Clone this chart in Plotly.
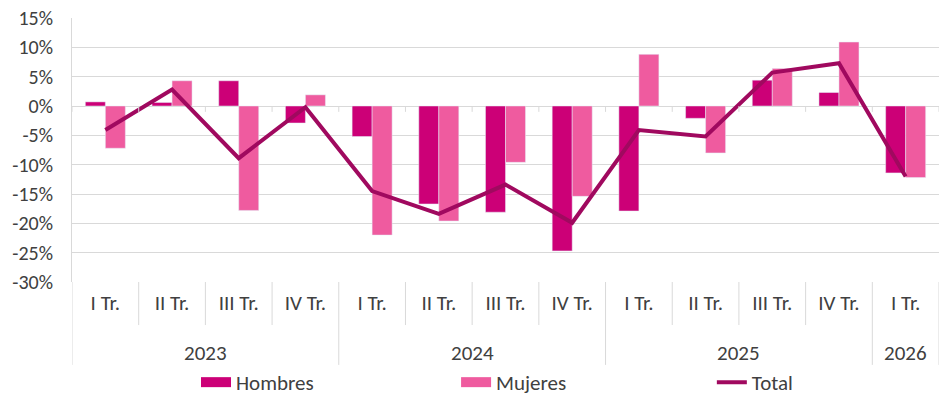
import plotly.graph_objects as go

years = ["2023"] * 4 + ["2024"] * 4 + ["2025"] * 4 + ["2026"]
quarters = ["I Tr.", "II Tr.", "III Tr.", "IV Tr."] * 3 + ["I Tr."]

hombres = [0.7, 0.6, 4.3, -2.9, -5.2, -16.7, -18.1, -24.7, -17.9, -2.1, 4.4, 2.3, -11.4]
mujeres = [-7.2, 4.3, -17.8, 1.9, -22.0, -19.6, -9.6, -15.4, 8.8, -8.0, 6.4, 10.9, -12.2]
total = [-4.1, 2.8, -8.9, -0.2, -14.5, -18.4, -13.4, -19.9, -4.1, -5.2, 5.7, 7.3, -12.0]

y_ticks = [15, 10, 5, 0, -5, -10, -15, -20, -25, -30]
y_labels = ["15%", "10%", "5%", "0%", "-5%", "-10%", "-15%", "-20%", "-25%", "-30%"]

FONT = "Carlito, Calibri, Lato, sans-serif"
TXT = "#404040"
GRID = "#d9d9d9"
C_H, C_M, C_T = "#CC0077", "#EF5B9F", "#A0095F"

idx = list(range(len(quarters)))

fig = go.Figure()
fig.add_trace(go.Bar(x=idx, y=hombres, name="Hombres", marker_color=C_H,
                     showlegend=False))
fig.add_trace(go.Bar(x=idx, y=mujeres, name="Mujeres", marker_color=C_M,
                     showlegend=False))
fig.add_trace(go.Scatter(x=idx, y=total, name="Total", mode="lines",
                         line={"color": C_T, "width": 4}, showlegend=False))

# legend entries, one legend each so they can be spaced like the original
for name, color, width, leg in [("Hombres", C_H, 13, "legend"),
                                ("Mujeres", C_M, 13, "legend2"),
                                ("Total", C_T, 4, "legend3")]:
    fig.add_trace(go.Scatter(x=[None], y=[None], name=name, mode="lines",
                             line={"color": color, "width": width}, legend=leg))

leg_common = {"y": 0.0, "yref": "container", "yanchor": "bottom",
              "xanchor": "left", "bgcolor": "rgba(0,0,0,0)",
              "font": {"size": 21, "color": TXT}, "itemwidth": 30}

# separators under the axis
shapes = []
bounds = [i - 0.5 for i in idx] + [idx[-1] + 0.5]
for i, b in enumerate(bounds):
    is_year = i == 0 or i == len(idx) or years[i] != years[i - 1]
    shapes.append(dict(type="line", xref="x", yref="paper", x0=b, x1=b,
                       y0=0, y1=-0.314 if is_year else -0.163,
                       line={"color": GRID, "width": 1}))
    shapes.append(dict(type="line", xref="x", yref="y", x0=b, x1=b,
                       y0=0, y1=-1.0, line={"color": GRID, "width": 1}))

annotations = []
for yr in dict.fromkeys(years):
    pos = [i for i in idx if years[i] == yr]
    annotations.append(dict(x=sum(pos) / len(pos), xref="x", y=-0.269,
                            yref="paper", text=yr, showarrow=False,
                            yanchor="middle",
                            font={"size": 21, "color": TXT}))

fig.update_layout(
    width=939,
    height=403,
    plot_bgcolor="white",
    paper_bgcolor="white",
    font={"family": FONT, "size": 20, "color": TXT},
    barmode="group",
    bargap=0.4,
    bargroupgap=0,
    margin={"l": 72, "r": 0, "t": 18, "b": 121, "autoexpand": False},
    legend={**leg_common, "x": 0.143},
    legend2={**leg_common, "x": 0.443},
    legend3={**leg_common, "x": 0.738},
    shapes=shapes,
    annotations=annotations,
)

fig.update_yaxes(
    range=[-30, 15],
    tickvals=y_ticks,
    ticktext=y_labels,
    showgrid=True,
    gridcolor=GRID,
    gridwidth=1,
    zeroline=True,
    zerolinecolor=GRID,
    zerolinewidth=1,
    showline=True,
    linecolor=GRID,
    ticks="",
    ticklabelstandoff=14,
    automargin=False,
    tickfont={"size": 20, "color": TXT},
)

fig.update_xaxes(
    range=[-0.5, idx[-1] + 0.5],
    tickvals=idx,
    ticktext=quarters,
    showgrid=False,
    zeroline=False,
    ticks="",
    ticklabelstandoff=6,
    automargin=False,
    tickfont={"size": 21, "color": TXT},
)

fig.write_html("out.html", config={"displayModeBar": False},
               post_script="document.body.style.margin='0';")
